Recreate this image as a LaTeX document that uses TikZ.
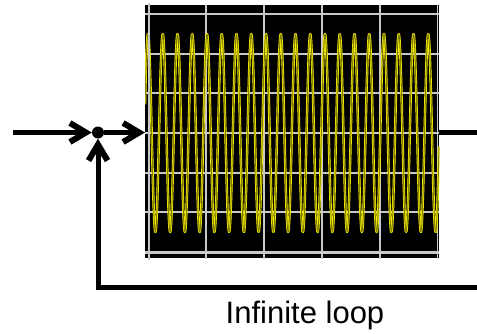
\documentclass[tikz,border=0pt]{standalone}
\usepackage{fontspec}
\setmainfont{Liberation Sans}
\usetikzlibrary{arrows.meta}
\definecolor{gridc}{RGB}{200,200,200}
\definecolor{traceo}{RGB}{128,128,0}
\tikzset{
  wire/.style={line width=5pt, line join=miter},
  flow/.style={wire, -{Straight Barb[length=16pt,width=19pt,line width=6pt]}},
  screenbox/.style={fill=black, draw=none, inner sep=0pt, minimum width=294pt, minimum height=253pt},
  hgrid/.style={gridc, line width=2pt},
  vgrid/.style={gridc, line width=1.2pt},
  junction/.style={circle, fill=black, inner sep=0pt, minimum size=12pt},
  lbl/.style={font=\fontsize{31}{35}\selectfont, inner sep=0pt}
}
\begin{document}
\begin{tikzpicture}[x=1pt,y=-1pt]
\useasboundingbox (0,0) rectangle (477,333);
% screen
\node[screenbox, anchor=north west] (scr) at (145,5) {};
\begin{scope}
  \clip (scr.south west) rectangle (scr.north east);
  \foreach \y in {14,53.5,93,133,172.5,212} \draw[hgrid] (145,\y) -- (439,\y);
  \draw[gridc, line width=3pt] (145,252.5) -- (439,252.5);
  \foreach \x in {206,264,322,380,437.5} \draw[vgrid] (\x,0) -- (\x,260);
  \draw[yellow, line width=2.4pt, line join=round]
    plot[domain=145:439, samples=900, variable=\x] ({\x},{133-99*cos(((\x-148)/14.75)*360)});
  \draw[traceo, line width=1pt, line join=round]
    plot[domain=145:439, samples=900, variable=\x] ({\x},{133-99*cos(((\x-148)/14.75)*360)});
\end{scope}
\draw[vgrid] (149,3) -- (149,260);
% connectors
\node[junction] (dot) at (98,132.5) {};
\coordinate (in) at (13,132.5);
\coordinate (out) at (477,132);
\coordinate (corner) at (98,287);
\coordinate (loopend) at (477,287);
\draw[flow] (in) -- (dot);
\draw[flow] (dot) -- (dot -| scr.west);
\draw[wire] (scr.east |- out) -- (out);
\draw[flow] (loopend) -- (corner) -- (dot);
\node[lbl, anchor=base] (label) at (305,323) {Infinite loop};
\end{tikzpicture}
\end{document}
